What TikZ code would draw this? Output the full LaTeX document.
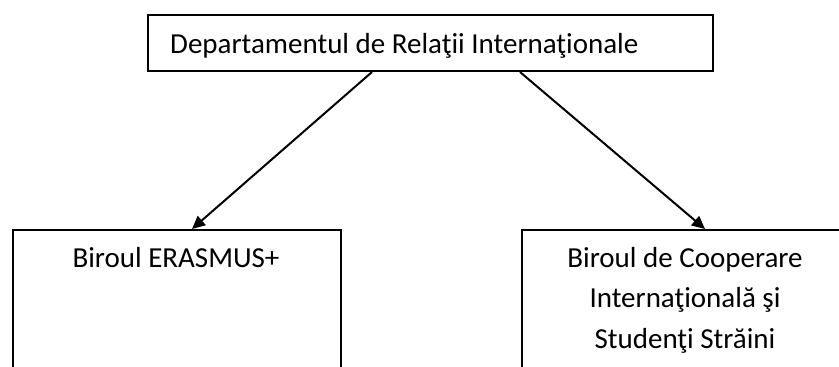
\documentclass[tikz,border=0pt]{standalone}
\usepackage{fontspec}
\setmainfont{Carlito}
\usetikzlibrary{arrows.meta}
\begin{document}
\begin{tikzpicture}[x=1pt,y=-1pt,
  boxnode/.style={draw=black, line width=2pt, rectangle, inner sep=0pt, anchor=north west},
  lbl/.style={inner sep=0pt, font=\fontsize{29}{40.5}\selectfont, text=black},
  arr/.style={draw=black, line width=2pt, -{Triangle[length=13pt,width=12pt]}}]
\useasboundingbox (0,0) rectangle (839,367);
\begin{scope}
\clip (0,0) rectangle (839,367);
\node[boxnode, minimum width=565pt, minimum height=56.5pt] (top) at (147,13.5) {};
\node[boxnode, minimum width=328pt, minimum height=160pt] (lbox) at (12,229) {};
\node[boxnode, minimum width=328pt, minimum height=160pt] (rbox) at (521,229) {};
\node[lbl, anchor=base west] (ttop) at (170,53) {Departamentul de Relaţii Internaţionale};
\node[lbl, anchor=base] (tleft) at (176,267) {Biroul ERASMUS+};
\node[lbl, anchor=base, align=center] (tright) at (685,348) {Biroul de Cooperare\\Internaţională şi\\Studenţi Străini};
\draw[arr] ([xshift=225pt]top.south west) -- ([xshift=180pt]lbox.north west);
\draw[arr] ([xshift=373pt]top.south west) -- ([xshift=184pt]rbox.north west);
\end{scope}
\end{tikzpicture}
\end{document}
